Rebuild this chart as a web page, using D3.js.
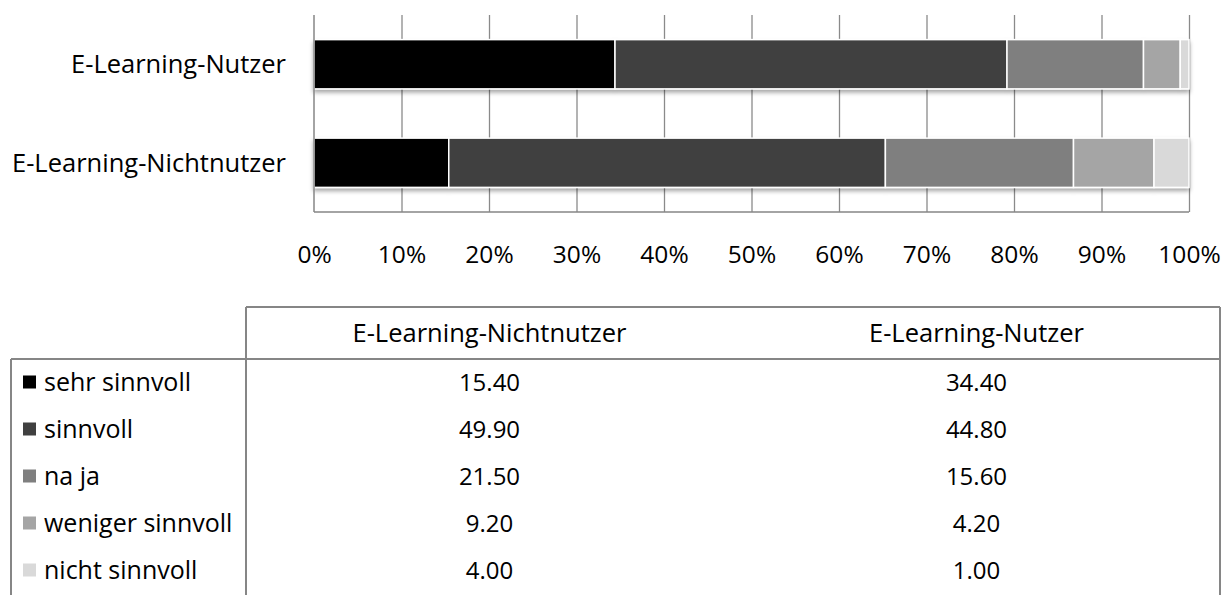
<!DOCTYPE html>
<meta charset="utf-8">
<script src="https://cdn.jsdelivr.net/npm/d3@7/dist/d3.min.js"></script>
<style>
body { margin: 0; background: #fff; }
svg { display: block; font-family: "Open Sans", sans-serif; }
.grid line { stroke: #8a8a8a; stroke-width: 1.3px; }
.grid path { display: none; }
.axis-x path, .axis-x line { display: none; }
.axis-x text { font-size: 24.5px; fill: #000; }
.frame { stroke: #868686; stroke-width: 2px; }
.cat { font-size: 25.5px; fill: #000; }
.cell { font-size: 25px; fill: #000; }
.head { font-size: 25.5px; }
.num { font-size: 24px; }
</style>
<div id="chart"></div>
<script>
// bars, top to bottom
var categories = ["E-Learning-Nutzer", "E-Learning-Nichtnutzer"];
var series = ["sehr sinnvoll", "sinnvoll", "na ja", "weniger sinnvoll", "nicht sinnvoll"];
var colors = ["#000000", "#404040", "#7f7f7f", "#a5a5a5", "#d9d9d9"];
var nutzerValues      = [34.4, 44.8, 15.6, 4.2, 1.0];
var nichtnutzerValues = [15.4, 49.9, 21.5, 9.2, 4.0];
// table column order
var tableColumns = ["E-Learning-Nichtnutzer", "E-Learning-Nutzer"];
var tickValues = [0, 0.1, 0.2, 0.3, 0.4, 0.5, 0.6, 0.7, 0.8, 0.9, 1];

var width = 1225, height = 595;
var plot = {left: 314, right: 1189, top: 15, bottom: 212};

var valuesBy = {
  "E-Learning-Nutzer": nutzerValues,
  "E-Learning-Nichtnutzer": nichtnutzerValues
};

var rows = categories.map(function(c) {
  var r = {cat: c};
  series.forEach(function(s, i) { r[s] = valuesBy[c][i]; });
  return r;
});

var x = d3.scaleLinear().domain([0, 1]).range([plot.left, plot.right]);
var y = d3.scaleBand().domain(categories).range([plot.top, plot.bottom])
    .paddingInner(0.5).paddingOuter(0.25);
var color = d3.scaleOrdinal().domain(series).range(colors);

var stack = d3.stack().keys(series)
    .offset(d3.stackOffsetExpand);
var layers = stack(rows);

var svg = d3.select("#chart").append("svg")
    .attr("width", width)
    .attr("height", height);

var defs = svg.append("defs");
defs.append("filter")
    .attr("id", "shadow")
    .attr("x", "-5%").attr("y", "-30%")
    .attr("width", "110%").attr("height", "170%")
  .append("feDropShadow")
    .attr("dx", 0).attr("dy", 3)
    .attr("stdDeviation", 2)
    .attr("flood-color", "#000")
    .attr("flood-opacity", 0.35);

// gridlines
svg.append("g")
    .attr("class", "grid")
    .attr("transform", "translate(0," + plot.bottom + ")")
    .call(d3.axisBottom(x).tickValues(tickValues.slice(1))
      .tickSize(-(plot.bottom - plot.top)).tickFormat(""));

// bars
var barG = svg.append("g").attr("filter", "url(#shadow)");
barG.selectAll("g")
    .data(layers)
  .enter().append("g")
    .attr("fill", function(d) { return color(d.key); })
  .selectAll("rect")
    .data(function(d) { return d; })
  .enter().append("rect")
    .attr("x", function(d) { return x(d[0]); })
    .attr("width", function(d) { return x(d[1]) - x(d[0]); })
    .attr("y", function(d) { return y(d.data.cat); })
    .attr("height", y.bandwidth())
    .attr("stroke", "#fff")
    .attr("stroke-width", 1.5);

// axis lines
svg.append("line").attr("class", "frame")
    .attr("x1", plot.left).attr("x2", plot.left)
    .attr("y1", plot.top).attr("y2", plot.bottom)
    .style("stroke-width", "1.5px");
svg.append("line").attr("class", "frame")
    .attr("x1", plot.left).attr("x2", plot.right)
    .attr("y1", plot.bottom).attr("y2", plot.bottom)
    .style("stroke-width", "1.5px");

// x tick labels
svg.append("g")
    .attr("class", "axis-x")
    .attr("transform", "translate(0," + plot.bottom + ")")
    .call(d3.axisBottom(x).tickValues(tickValues).tickSize(0).tickPadding(34)
      .tickFormat(d3.format(".0%")))
    .attr("font-family", null).attr("font-size", null);

// category labels
svg.append("g").selectAll("text")
    .data(categories)
  .enter().append("text")
    .attr("class", "cat")
    .attr("x", 286)
    .attr("y", function(d) { return y(d) + y.bandwidth() / 2; })
    .attr("dy", "0.35em")
    .attr("text-anchor", "end")
    .text(function(d) { return d; });

// data table
var tbl = {left: 11, labelRight: 246, right: 1220, top: 307, headBottom: 359, rowH: 47};
var colX = d3.scaleBand().domain(tableColumns).range([tbl.labelRight, tbl.right]);
var rowY = d3.scaleBand().domain(series)
    .range([tbl.headBottom, tbl.headBottom + tbl.rowH * series.length]);

var t = svg.append("g");
var lines = [
  [tbl.labelRight, tbl.top, tbl.right, tbl.top],
  [tbl.left, tbl.headBottom, tbl.right, tbl.headBottom],
  [tbl.labelRight, tbl.top, tbl.labelRight, height],
  [tbl.right, tbl.top, tbl.right, height],
  [tbl.left, tbl.headBottom, tbl.left, height]
];
t.selectAll("line")
    .data(lines)
  .enter().append("line")
    .attr("class", "frame")
    .attr("x1", function(d) { return d[0]; })
    .attr("y1", function(d) { return d[1]; })
    .attr("x2", function(d) { return d[2]; })
    .attr("y2", function(d) { return d[3]; });

t.selectAll("text.head")
    .data(tableColumns)
  .enter().append("text")
    .attr("class", "cell head")
    .attr("x", function(d) { return colX(d) + colX.bandwidth() / 2; })
    .attr("y", (tbl.top + tbl.headBottom) / 2)
    .attr("dy", "0.35em")
    .attr("text-anchor", "middle")
    .text(function(d) { return d; });

var legendRow = t.selectAll("g.lrow")
    .data(series)
  .enter().append("g")
    .attr("class", "lrow")
    .attr("transform", function(d) { return "translate(0," + (rowY(d) + rowY.bandwidth() / 2) + ")"; });

legendRow.append("rect")
    .attr("x", 23).attr("y", -7)
    .attr("width", 13).attr("height", 13)
    .attr("fill", function(d) { return color(d); });

legendRow.append("text")
    .attr("class", "cell")
    .attr("x", 44)
    .attr("dy", "0.35em")
    .text(function(d) { return d; });

tableColumns.forEach(function(c) {
  legendRow.append("text")
      .attr("class", "cell num")
      .attr("x", colX(c) + colX.bandwidth() / 2)
      .attr("dy", "0.35em")
      .attr("text-anchor", "middle")
      .text(function(d, i) { return valuesBy[c][i].toFixed(2); });
});
</script>
